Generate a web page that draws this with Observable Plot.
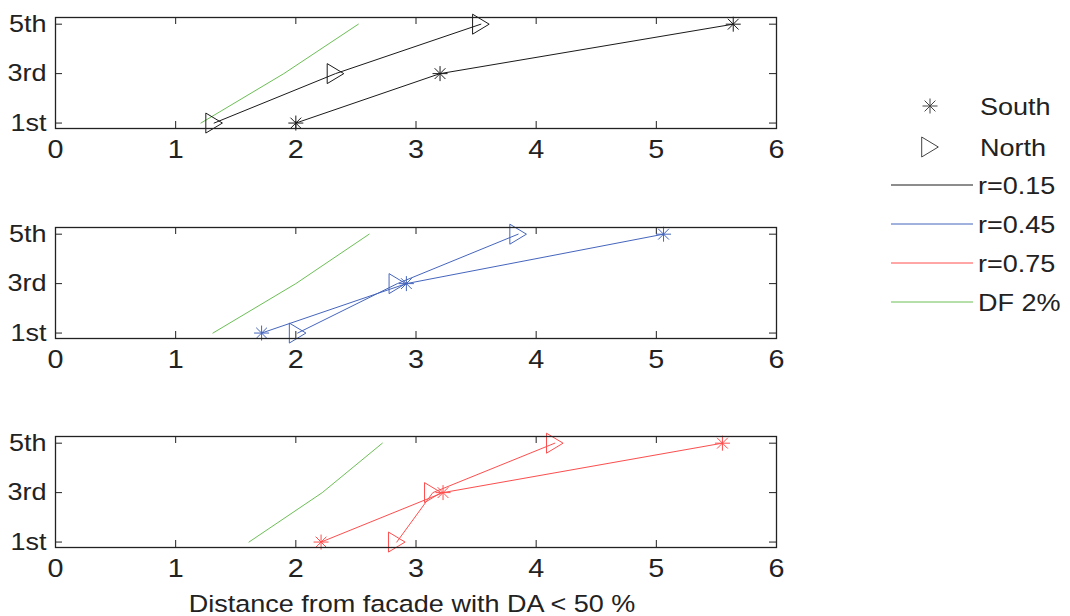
<!DOCTYPE html>
<html><head><meta charset="utf-8">
<script src="https://cdn.jsdelivr.net/npm/d3@7"></script>
<script src="https://cdn.jsdelivr.net/npm/@observablehq/plot@0.6"></script>
<style>
body{margin:0;background:#fff;}
#root{position:relative;width:1070px;height:616px;overflow:hidden;background:#fff;font-family:"Liberation Sans",Arial,sans-serif;}
.panel{position:absolute;left:0;}
#overlay{position:absolute;left:0;top:0;}
</style></head><body><div id="root"></div>
<script>
// ---- data ----
const floors = [1, 3, 5];
const floorLabels = ["1st", "3rd", "5th"];
const xTicks = [0, 1, 2, 3, 4, 5, 6];
const markerNames = ["South", "North"];
const lineNames = ["r=0.15", "r=0.45", "r=0.75", "DF 2%"];
const lineColors = ["#1a1a1a", "#4565bd", "#ff4d4d", "#6cbf55"];
const xLabel = "Distance from facade with DA < 50 %";

const south015 = [2.00, 3.20, 5.64];
const north015 = [1.32, 2.33, 3.54];
const df015    = [1.21, 1.90, 2.52];
const south045 = [1.715, 2.92, 5.06];
const north045 = [2.015, 2.845, 3.85];
const df045    = [1.31, 2.00, 2.61];
const south075 = [2.21, 3.225, 5.55];
const north075 = [2.84, 3.14, 4.155];
const df075    = [1.61, 2.22, 2.72];

// ---- symbols ----
const star = {draw(ctx) {
  const r = 7.5, d = r * 0.72;
  ctx.moveTo(-r, 0); ctx.lineTo(r, 0);
  ctx.moveTo(0, -r); ctx.lineTo(0, r);
  ctx.moveTo(-d, -d); ctx.lineTo(d, d);
  ctx.moveTo(-d, d); ctx.lineTo(d, -d);
}};
const tri = {draw(ctx) {
  ctx.moveTo(-8.3, -10); ctx.lineTo(8.3, 0); ctx.lineTo(-8.3, 10); ctx.closePath();
}};

const FONT = '"Liberation Sans", Arial, sans-serif';
const TXT = "#222";
const STRETCH = 1.15;
const root = document.getElementById("root");

function stretchTexts(svg) {
  svg.querySelectorAll("text").forEach(t => {
    const tr = t.getAttribute("transform") || "";
    t.setAttribute("transform", tr + ` scale(${STRETCH},1)`);
  });
}

function panel(south, north, df, color, top) {
  const frameH = 111, frameW = 721;
  const rows = vals => floors.map((f, i) => ({x: vals[i], y: f}));
  const sData = rows(south), nData = rows(north), gData = rows(df);
  const p = Plot.plot({
    width: 800, height: 17 + frameH + 46,
    marginLeft: 55, marginRight: 24, marginTop: 17, marginBottom: 46,
    x: {domain: [0, 6]},
    y: {domain: [0.78, 5.27]},
    style: {fontSize: "23.5px", fontFamily: FONT, color: TXT, background: "transparent", overflow: "visible"},
    marks: [
      Plot.axisX(xTicks, {tickSize: 0, tickPadding: 12, fontSize: 25, tickFormat: d => String(d), label: null}),
      Plot.axisY(floors, {tickSize: 0, tickPadding: 9, tickFormat: d => floorLabels[floors.indexOf(d)], label: null}),
      Plot.tickX(xTicks, {x: d => d, insetTop: frameH - 7, stroke: TXT}),
      Plot.tickX(xTicks, {x: d => d, insetBottom: frameH - 7, stroke: TXT}),
      Plot.tickY(floors, {y: d => d, insetRight: frameW - 7, stroke: TXT}),
      Plot.tickY(floors, {y: d => d, insetLeft: frameW - 7, stroke: TXT}),
      Plot.line(gData, {x: "x", y: "y", stroke: lineColors[3], strokeWidth: 1}),
      Plot.line(sData, {x: "x", y: "y", stroke: color, strokeWidth: 1}),
      Plot.line(nData, {x: "x", y: "y", stroke: color, strokeWidth: 1}),
      Plot.dot(sData, {x: "x", y: "y", symbol: star, stroke: color, fill: "none", strokeWidth: 1}),
      Plot.dot(nData, {x: "x", y: "y", symbol: tri, stroke: color, fill: "none", strokeWidth: 1}),
      Plot.frame({stroke: TXT, strokeWidth: 1.3})
    ]
  });
  stretchTexts(p);
  p.classList.add("panel");
  p.style.top = top + "px";
  root.appendChild(p);
}

panel(south015, north015, df015, lineColors[0], 0);
panel(south045, north045, df045, lineColors[1], 210);
panel(south075, north075, df075, lineColors[2], 419);

// ---- overlay: legend and x label ----
const ov = d3.select(root).append("svg").attr("id", "overlay")
  .attr("width", 1070).attr("height", 616)
  .style("font-family", FONT).style("fill", TXT);

function stretched(sel, x, y, str, anchor, size) {
  return sel.append("text")
    .attr("transform", `translate(${x},${y}) scale(${STRETCH},1)`)
    .attr("text-anchor", anchor)
    .attr("font-size", size)
    .attr("fill", TXT)
    .text(str);
}

stretched(ov, 412, 612, xLabel, "middle", 23.5);

const legendX = 930, textX = 980;
const markerY = [106, 147];
const lineY = [185, 224, 263, 302];
[star, tri].forEach((sym, i) => {
  const path = d3.path(); sym.draw(path);
  ov.append("path").attr("d", path.toString())
    .attr("transform", `translate(${legendX},${markerY[i]})`)
    .attr("fill", "none").attr("stroke", "#444").attr("stroke-width", 1);
  stretched(ov, textX, markerY[i] + 8.5, markerNames[i], "start", 23.5);
});
lineNames.forEach((nm, i) => {
  ov.append("line").attr("x1", 891).attr("x2", 973).attr("y1", lineY[i]).attr("y2", lineY[i])
    .attr("stroke", lineColors[i]).attr("stroke-width", 1);
  stretched(ov, textX - 2, lineY[i] + 8.5, nm, "start", 23.5);
});
</script></body></html>
